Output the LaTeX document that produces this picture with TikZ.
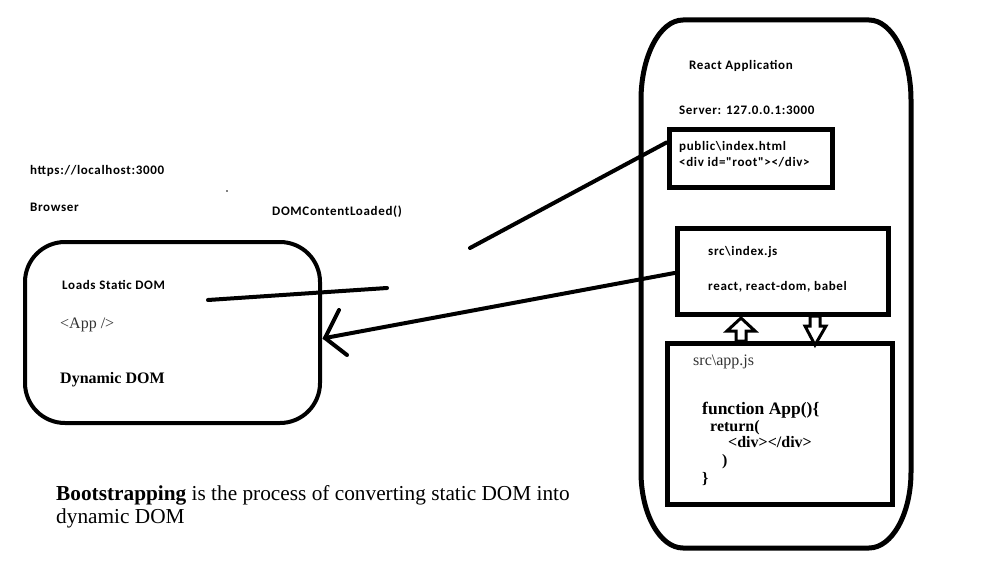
\documentclass[tikz,border=0pt]{standalone}
\usepackage{fontspec}
\setmainfont{Liberation Serif}
\newfontfamily\calfont[LetterSpace=5]{Carlito}
\usetikzlibrary{calc}
\tikzset{
  x=1pt, y=-1pt,
  sans/.style={font=\calfont\bfseries\fontsize{13}{15}\selectfont, anchor=base west, inner sep=0pt},
  serif/.style={font=\fontsize{16}{18}\selectfont, anchor=base west, inner sep=0pt},
  code/.style={font=\bfseries\fontsize{16}{18}\selectfont, anchor=base west, inner sep=0pt},
  para/.style={font=\fontsize{21.3}{24}\selectfont, anchor=base west, inner sep=0pt},
  box/.style={draw, line width=5pt, inner sep=0pt},
  wire/.style={line width=4pt, line cap=round},
  hollow/.style={draw, line width=3pt, fill=white, line join=miter}
}
\begin{document}
\begin{tikzpicture}
\useasboundingbox (0,0) rectangle (985,583);
\fill[white] (0,0) rectangle (985,583);

% React application outline
\draw[line width=5pt] (683,20) -- (869,20) .. controls (892,20) and (911,56) .. (911,100)
  -- (911,472) .. controls (911,514) and (892,548) .. (869,548)
  -- (683,548) .. controls (660,548) and (641,514) .. (641,472)
  -- (641,100) .. controls (641,56) and (660,20) .. (683,20) -- cycle;

% boxes
\node[box, minimum width=163pt, minimum height=57pt] (pub) at (750.5,158.5) {};
\node[box, minimum width=211pt, minimum height=86pt] (idx) at (782.5,271) {};
\node[box, minimum width=225pt, minimum height=161pt] (app) at (779.5,424) {};
\node[draw, line width=4pt, rounded corners=40pt, minimum width=295pt, minimum height=181pt] (brow) at (172.5,332.5) {};

% texts right
\node[sans] (t1) at (689,70) {React Application};
\node[sans] (t2) at (679,115) {Server: 127.0.0.1:3000};
\node[sans] (t3) at (679,150) {public\textbackslash index.html};
\node[sans] (t4) at (679,167) {<div id="root"></div>};
\node[sans] (t5) at (708,255) {src\textbackslash index.js};
\node[sans] (t6) at (708,290) {react, react-dom, babel};
\node[serif, text=black!80] (t7) at (693,365) {src\textbackslash app.js};
\node[code, font=\bfseries\fontsize{17.5}{20}\selectfont] (c1) at (702,414) {function App()\{};
\node[code] (c2) at (710,431) {return(};
\node[code] (c3) at (728,447) {<div></div>};
\node[code] (c4) at (722,465) {)};
\node[code] (c5) at (702,483) {\}};

% texts left
\node[sans] (l1) at (30,175) {https://localhost:3000};
\node[sans] (l2) at (30,211) {Browser};
\node[sans] (l3) at (272,215) {DOMContentLoaded()};
\node[sans] (l4) at (62,289) {Loads Static DOM};
\node[serif, text=black!80] (l5) at (60,328) {<App />};
\node[code] (l6) at (60,383) {Dynamic DOM};
\node[para] (b1) at (56,500) {\textbf{Bootstrapping} is the process of converting static DOM into};
\node[para] (b2) at (56,523) {dynamic DOM};
\fill (227,191) circle (0.9pt);

% connectors
\coordinate (p1) at (470,248);
\draw[wire] (p1) -- ($(pub.west)+(0,-16)$);
\coordinate (s1) at (208,300);
\coordinate (s2) at (387,288);
\draw[wire] (s1) -- (s2);
\coordinate (tip) at ($(brow.east)+(3,5.5)$);
\draw[wire] ($(idx.west)+(0,2)$) -- (tip);
\draw[wire, line join=miter] ($(tip)+(14,-28)$) -- (tip) -- ($(tip)+(22,17)$);

% hollow arrows between idx and app
\draw[hollow] (736,341) -- (736,331) -- (727,331) -- (741,318) -- (755,331) -- (746,331) -- (746,341) -- cycle;
\draw[hollow] (810,316) -- (810,326) -- (805,326) -- (815,345) -- (826,326) -- (820,326) -- (820,316) -- cycle;
\end{tikzpicture}
\end{document}
